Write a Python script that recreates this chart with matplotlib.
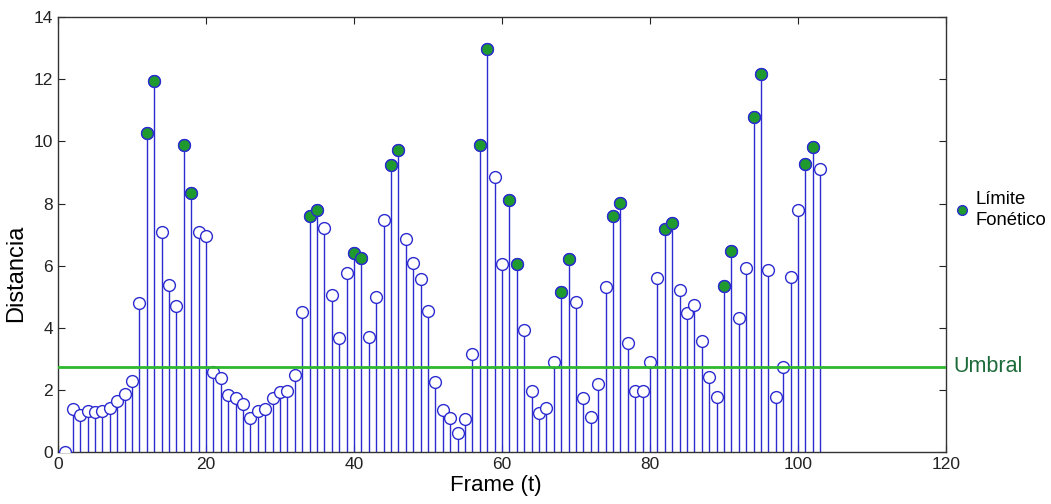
import matplotlib
matplotlib.use("Agg")
import matplotlib.pyplot as plt
import numpy as np

# distance per frame (frames 1..103)
frames = list(range(1, 104))
distancia = [
    0.0, 1.38, 1.19, 1.32, 1.29, 1.33, 1.43, 1.65, 1.86, 2.29,
    4.8, 10.28, 11.94, 7.1, 5.37, 4.69, 9.87, 8.33, 7.1, 6.97,
    2.59, 2.4, 1.83, 1.75, 1.54, 1.09, 1.33, 1.38, 1.75, 1.94,
    1.97, 2.47, 4.52, 7.59, 7.8, 7.22, 5.06, 3.66, 5.78, 6.41,
    6.25, 3.71, 4.98, 7.47, 9.25, 9.73, 6.86, 6.09, 5.57, 4.53,
    2.24, 1.35, 1.11, 0.62, 1.05, 3.15, 9.89, 12.96, 8.85, 6.05,
    8.13, 6.05, 3.92, 1.97, 1.25, 1.43, 2.91, 5.14, 6.21, 4.82,
    1.75, 1.13, 2.2, 5.32, 7.59, 8.01, 3.5, 1.97, 1.97, 2.9,
    5.6, 7.18, 7.37, 5.23, 4.47, 4.74, 3.58, 2.43, 1.77, 5.35,
    6.46, 4.33, 5.92, 10.78, 12.18, 5.86, 1.77, 2.74, 5.65, 7.8,
    9.28, 9.82, 9.12,
]
# frames marked as phonetic boundary
limites = [12, 13, 17, 18, 34, 35, 40, 41, 45, 46, 57, 58, 61, 62,
           68, 69, 75, 76, 82, 83, 90, 91, 94, 95, 101, 102]
umbral = 2.75

plt.rcParams['font.family'] = ['Liberation Sans', 'DejaVu Sans']


def plot_data():
    fig = plt.figure(figsize=(10.51, 5.04), dpi=100)
    ax = fig.add_axes([0.0552, 0.103, 0.845, 0.863])

    blue = '#2b2bd0'
    green = '#1f9a2e'

    # stems
    ax.vlines(frames, 0, distancia, color=blue, linewidth=1.0, zorder=2)
    ax.plot(frames, distancia, 'o', markersize=8.5, markerfacecolor='white',
            markeredgecolor=blue, markeredgewidth=1.0, zorder=3)

    # phonetic boundaries
    lx = limites
    ly = [distancia[f - 1] for f in limites]
    ax.plot(lx, ly, 'o', markersize=8.5, markerfacecolor=green,
            markeredgecolor=blue, markeredgewidth=1.0, zorder=4)

    # threshold
    ax.axhline(umbral, color='#2db82d', linewidth=2.0, zorder=5)
    ax.text(1.008, umbral, 'Umbral', transform=ax.get_yaxis_transform(),
            color='#1d6b3a', fontsize=15.5, va='center', ha='left')

    # legend-like marker and text outside the axes
    ax.plot([1.018], [0.556], 'o', markersize=7, markerfacecolor=green,
            markeredgecolor=blue, transform=ax.transAxes, clip_on=False)
    ax.text(1.033, 0.556, 'Límite\nFonético', transform=ax.transAxes,
            fontsize=13.3, va='center', ha='left', linespacing=1.3)

    ax.set_xlim(0, 120)
    ax.set_ylim(0, 14)
    ax.set_xticks(np.arange(0, 121, 20))
    ax.set_yticks(np.arange(0, 15, 2))
    ax.tick_params(direction='in', top=True, right=True, length=5,
                   labelsize=12.5, colors='#222222')
    for s in ax.spines.values():
        s.set_color('#333333')
        s.set_linewidth(1.0)

    ax.set_xlabel('Frame (t)', fontsize=16)
    ax.set_ylabel('Distancia', fontsize=17)
    ax.xaxis.set_label_coords(0.493, -0.052)
    ax.yaxis.set_label_coords(-0.035, 0.41)

    fig.savefig('out.png', dpi=100)


def main():
    plot_data()


if __name__ == "__main__":
    main()
